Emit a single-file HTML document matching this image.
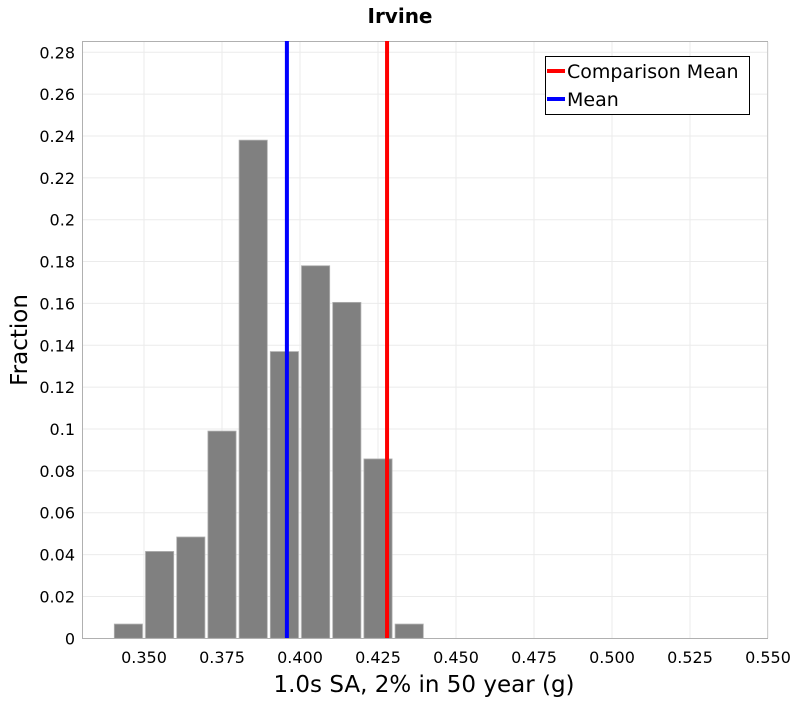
<!DOCTYPE html>
<html><head><meta charset="utf-8"><style>
body{margin:0;background:#fff;}
svg text{font-family:"DejaVu Sans","Liberation Sans",sans-serif;}
</style></head><body>
<svg id="chart" width="800" height="700" xmlns="http://www.w3.org/2000/svg">
<text x="400" y="23" text-anchor="middle" font-size="20" font-weight="bold">Irvine</text>
<rect x="82.5" y="41.5" width="685" height="597" fill="#fff" stroke="#b0b0b0"/>
<g id="grid"></g><g id="bars"></g><g id="lines"></g><g id="xticks"></g><g id="yticks"></g>
<text transform="translate(27,340) rotate(-90)" text-anchor="middle" font-size="23">Fraction</text>
<text x="424" y="692" text-anchor="middle" font-size="23">1.0s SA, 2% in 50 year (g)</text>
<g>
<rect x="545.5" y="56.5" width="204" height="58" fill="#fff" stroke="#000"/>
<line x1="547" x2="565" y1="71" y2="71" stroke="#f00" stroke-width="4"/>
<text x="567" y="78" font-size="19">Comparison Mean</text>
<line x1="547" x2="565" y1="99" y2="99" stroke="#00f" stroke-width="4"/>
<text x="567" y="106" font-size="19">Mean</text>
</g>
</svg>
<script>
const binStarts=[0.34,0.35,0.36,0.37,0.38,0.39,0.40,0.41,0.42,0.43];
const fractions=[0.0068,0.0415,0.0484,0.099,0.238,0.137,0.178,0.1605,0.0857,0.0068];
const binWidth=0.01;
const meanValue=0.3958;
const comparisonMean=0.4279;
const xTicks=[0.35,0.375,0.40,0.425,0.45,0.475,0.50,0.525,0.55];
const xTickLabels=["0.350","0.375","0.400","0.425","0.450","0.475","0.500","0.525","0.550"];
const yTicks=[0,0.02,0.04,0.06,0.08,0.1,0.12,0.14,0.16,0.18,0.2,0.22,0.24,0.26,0.28];
const yTickLabels=["0","0.02","0.04","0.06","0.08","0.1","0.12","0.14","0.16","0.18","0.2","0.22","0.24","0.26","0.28"];
const NS="http://www.w3.org/2000/svg";
function x(v){return 144+(v-0.35)*3120;}
function y(v){return 638.3-v*2093;}
function mk(p,t,a){const e=document.createElementNS(NS,t);for(const k in a)e.setAttribute(k,a[k]);document.getElementById(p).appendChild(e);return e;}
xTicks.forEach((v,i)=>{
 const g=mk('grid','line',{x1:x(v),x2:x(v),y1:42,y2:638,stroke:'#ebebeb'});
 
 
 const t=mk('xticks','text',{x:x(v),y:663,'text-anchor':'middle','font-size':'16'});
 t.textContent=xTickLabels[i];
 
 
});
yTicks.forEach((v,i)=>{
 if(v>0){const g=mk('grid','line',{x1:83,x2:767,y1:y(v),y2:y(v),stroke:'#ebebeb'});
 
 }
 const t=mk('yticks','text',{x:75,y:y(v)+6,'text-anchor':'end','font-size':'16'});
 t.textContent=yTickLabels[i];
 
 
});
binStarts.forEach((b,i)=>{
 const x0=x(b)+1.5,x1=x(b+binWidth)-1.5;
 const r=mk('bars','rect',{x:x0,y:y(fractions[i]),width:x1-x0,height:y(0)-y(fractions[i]),fill:'#808080',stroke:'#b0b0b0','stroke-width':'0.8'});
 
 
});
const m=mk('lines','line',{x1:x(meanValue),x2:x(meanValue),y1:41,y2:638,stroke:'#00f','stroke-width':'4'});


const c=mk('lines','line',{x1:x(comparisonMean),x2:x(comparisonMean),y1:41,y2:638,stroke:'#f00','stroke-width':'4'});


</script>
</body></html>
